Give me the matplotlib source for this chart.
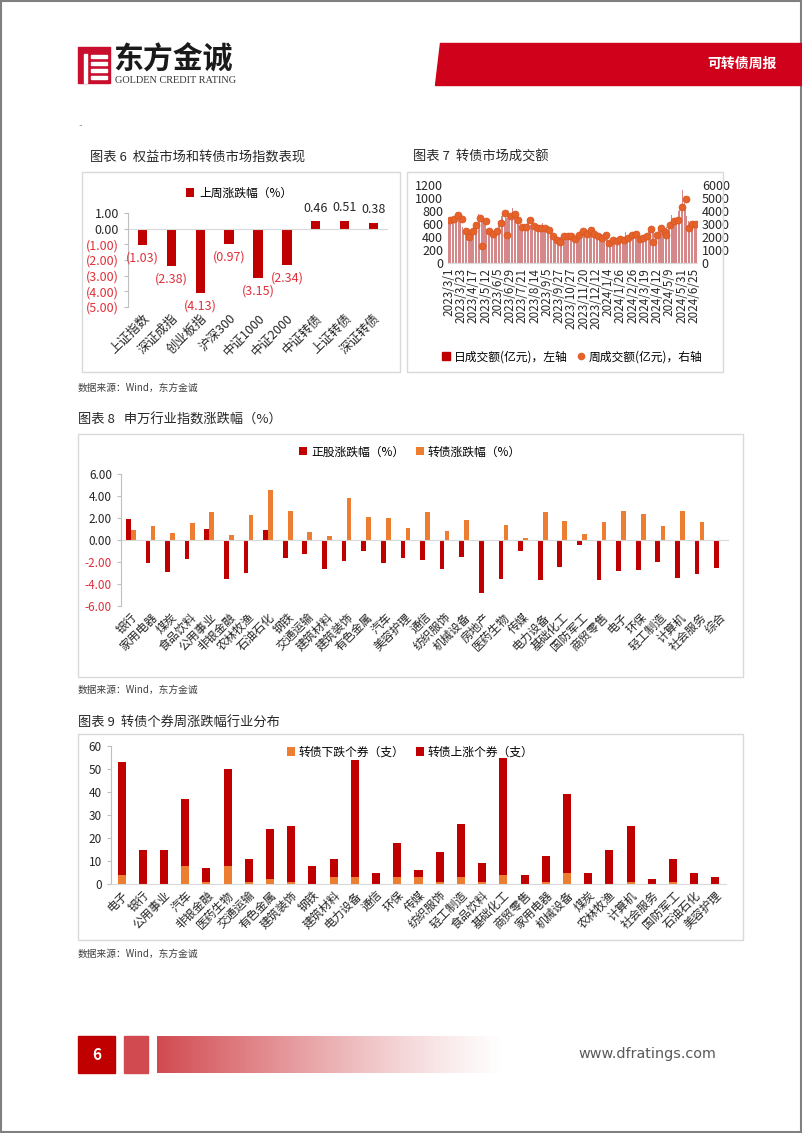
import numpy as np
import pandas as pd
import matplotlib.pyplot as plt
from matplotlib.patches import Rectangle, Polygon, Patch
from matplotlib.lines import Line2D
from matplotlib.ticker import FuncFormatter

plt.rcParams['font.family'] = ['Noto Sans CJK SC', 'DejaVu Sans']

RED = '#c00000'
ORANGE = '#ed7d31'
NEG = '#e0303a'
W, H = 802, 1133

# ---- chart 6 data
idx_names = ['上证指数', '深证成指', '创业板指', '沪深300', '中证1000', '中证2000', '中证转债', '上证转债', '深证转债']
idx_chg = [-1.03, -2.38, -4.13, -0.97, -3.15, -2.34, 0.46, 0.51, 0.38]

# ---- chart 7 data (trading days 2023/3/1 - 2024/6/28)
holidays = ['2023-04-05', '2023-05-01', '2023-05-02', '2023-05-03', '2023-06-22', '2023-06-23',
            '2023-09-29', '2023-10-02', '2023-10-03', '2023-10-04', '2023-10-05', '2023-10-06',
            '2024-01-01', '2024-02-12', '2024-02-13', '2024-02-14', '2024-02-15', '2024-02-16',
            '2024-04-04', '2024-04-05', '2024-05-01', '2024-05-02', '2024-05-03', '2024-06-10']
daily_amt = [
    700, 660, 690,  690, 720, 650, 700, 680,  760, 740, 720, 780, 700,  700, 660, 690, 720, 650,
    560, 500, 480, 470, 490,  500, 480, 490, 500,  480, 510, 500, 490, 520,  560, 620, 600, 580, 580,
    650, 700, 760, 680, 680,  640, 640,  680, 660, 640, 620, 640,  520, 500, 480, 500, 500,
    460, 450, 440, 460, 440,  480, 500, 520, 500, 500,  600, 640, 580, 620, 600,  720, 760, 820, 880, 650,
    720, 700, 720,  740, 720, 700, 740, 730,  760, 850, 740, 720, 710,  680, 660, 700, 640, 660,
    560, 540, 560, 550, 550,  520, 540, 560, 580, 560,  640, 680, 660, 820, 490,  580, 560, 560, 540, 570,
    560, 540, 550, 540, 540,  540, 520, 530, 560, 510,  620, 560, 520, 510, 520,  540, 500, 490, 500, 500,
    420, 410, 400, 410, 400,  360, 350, 340, 350, 340,  400, 390, 400, 390,  400, 420, 410, 400, 410,
    400, 410, 590, 420, 400,  400, 410, 600, 400, 400,  380, 370, 370, 380, 360,  420, 430, 410, 440, 420,
    480, 500, 490, 500, 480,  440, 450, 460, 430, 440,  510, 520, 500, 520, 500,  460, 440, 450, 450, 450,
    420, 410, 400, 430, 410,  390, 380, 400, 380, 390,  430, 440, 420, 440, 440,  380, 390, 540, 370,
    360, 350, 370, 360, 350,  340, 350, 330, 340, 350,  380, 360, 380, 370, 370,  350, 340, 360, 340, 350,
    420, 480, 400, 380, 300,  430, 440, 420, 440, 440,  480, 440, 430, 440, 430,  380, 370, 370, 380, 360,
    380, 390, 380, 380, 380,  400, 410, 420, 400, 410,  520, 500, 540, 520, 520,  540, 560, 540,
    420, 440, 430, 440, 440,  560, 520, 540, 520, 520,  480, 500, 470, 480, 470,  540, 560,
    560, 600, 580, 620, 550,  640, 740, 620, 640, 600,  660, 680, 640, 660, 650,  800, 820, 860, 900, 910,
    1130, 1050, 1000, 920, 830,  720, 680, 660, 650,  600, 620, 580, 600, 590,  600, 640, 580, 590, 580]
weekly_amt = [3290, 3420, 3700, 3420, 2500, 1970, 2500, 2940, 3470, 1280,
              3240, 2500, 2250, 2500, 3040, 3830, 2140, 3630, 3780, 3340,
              2760, 2760, 3290, 2810, 2730, 2660, 2730, 2530, 2040, 1740,
              1580, 2040, 2040, 2040, 1860, 2120, 2450, 2220, 2550, 2250,
              2070, 1940, 2170, 1560, 1790, 1710, 1860, 1740, 1910, 2170,
              2220, 1860, 1910, 2040, 2600, 1630, 2170, 2660, 2400, 2120,
              2910, 3240, 3290, 4290, 4930, 2710, 2990, 2990]

# ---- chart 8 data
sw_names = ['银行', '家用电器', '煤炭', '食品饮料', '公用事业', '非银金融', '农林牧渔', '石油石化', '钢铁', '交通运输',
            '建筑材料', '建筑装饰', '有色金属', '汽车', '美容护理', '通信', '纺织服饰', '机械设备', '房地产', '医药生物',
            '传媒', '电力设备', '基础化工', '国防军工', '商贸零售', '电子', '环保', '轻工制造', '计算机', '社会服务', '综合']
stock_chg = [1.92, -2.13, -2.95, -1.77, 0.97, -3.53, -3.02, 0.88, -1.63, -1.25,
             -2.62, -1.87, -1.03, -2.13, -1.66, -1.78, -2.66, -1.57, -4.78, -3.50,
             -1.00, -3.64, -2.44, -0.47, -3.60, -2.85, -2.75, -1.96, -3.47, -3.08, -2.50]
cb_chg = [0.92, 1.27, 0.67, 1.52, 2.55, 0.48, 2.27, 4.58, 2.64, 0.76,
          0.36, 3.85, 2.12, 1.97, 1.09, 2.55, 0.85, 1.79, np.nan, 1.32,
          0.20, 2.57, 1.73, 0.56, 1.67, 2.64, 2.33, 1.27, 2.64, 1.64, np.nan]

# ---- chart 9 data
cnt_names = ['电子', '银行', '公用事业', '汽车', '非银金融', '医药生物', '交通运输', '有色金属', '建筑装饰', '钢铁',
             '建筑材料', '电力设备', '通信', '环保', '传媒', '纺织服饰', '轻工制造', '食品饮料', '基础化工', '商贸零售',
             '家用电器', '机械设备', '煤炭', '农林牧渔', '计算机', '社会服务', '国防军工', '石油石化', '美容护理']
down_cnt = [4, 0, 0, 8, 1, 8, 1, 2, 1, 0, 3, 3, 0, 3, 3, 1, 3, 1, 4, 0, 1, 5, 0, 0, 1, 0, 1, 0, 0]
up_cnt = [49, 15, 15, 29, 6, 42, 10, 22, 24, 8, 8, 51, 5, 15, 3, 13, 23, 8, 51, 4, 11, 34, 5, 15, 24, 2, 10, 5, 3]


fig = plt.figure(figsize=(W / 100, H / 100), dpi=100)


def fbox(x0, y0, x1, y1):
    return [x0 / W, 1 - y1 / H, (x1 - x0) / W, (y1 - y0) / H]


def ftext(x, y, s, **kw):
    fig.text(x / W, 1 - y / H, s, **kw)


def frame(x0, y0, x1, y1, **kw):
    fig.patches.append(Rectangle((x0 / W, 1 - y1 / H), (x1 - x0) / W, (y1 - y0) / H,
                                 transform=fig.transFigure, **kw))


def style(ax):
    for s in ['top', 'right']:
        ax.spines[s].set_visible(False)
    ax.spines['left'].set_color('#bfbfbf')
    ax.spines['bottom'].set_color('#d9d9d9')
    ax.tick_params(axis='both', labelsize=8.5, colors='#262626', length=3)
    ax.tick_params(axis='x', length=0)
    ax.tick_params(axis='y', color='#bfbfbf')


def red_negatives(ax):
    for lab, v in zip(ax.get_yticklabels(), ax.get_yticks()):
        if v < 0:
            lab.set_color(NEG)


# ---- page decoration
frame(0.5, 0.5, W - 1, H - 1, fill=False, ec='#808080', lw=1.5)
frame(78, 47, 110, 83, color='#c8102e')
frame(84, 54, 87, 83, color='white')
for yy in [55, 62, 69, 76]:
    frame(91, yy, 107, yy + 2.5, color='white')
ftext(113, 60, '东方金诚', fontsize=21.5, fontweight='bold', va='center', color='#1a1a1a')
ftext(115, 80.5, 'GOLDEN CREDIT RATING', fontsize=7.4, family=['Liberation Serif', 'DejaVu Serif'],
      va='center', color='#333333')
fig.patches.append(Polygon([(440 / W, 1 - 43 / H), (1, 1 - 43 / H), (1, 1 - 85 / H), (435 / W, 1 - 85 / H)],
                           closed=True, transform=fig.transFigure, color='#d0021b'))
ftext(742, 64, '可转债周报', fontsize=10, fontweight='bold', color='white', ha='center', va='center')
ftext(78, 124, '..', fontsize=6, color='#404040', va='center')

# footer
frame(78, 1036, 115, 1073, color='#c00000')
ftext(96.5, 1054.5, '6', fontsize=11, fontweight='bold', color='white', ha='center', va='center')
frame(124, 1036, 148, 1073, color='#d04a50')
axg = fig.add_axes(fbox(157, 1036, 505, 1073))
axg.axis('off')
fade = np.linspace(1, 0, 300) ** 1.2
grad = np.zeros((1, 300, 4))
grad[..., 0], grad[..., 1], grad[..., 2], grad[..., 3] = 0.82, 0.29, 0.31, fade
axg.imshow(grad, aspect='auto')
ftext(647, 1054, 'www.dfratings.com', fontsize=10.4, color='#595959', ha='center', va='center',
      family=['Liberation Sans Narrow', 'DejaVu Sans'])

# ---- chart 6
ftext(90, 157, '图表 6  权益市场和转债市场指数表现', fontsize=9.5, va='center', color='#262626')
frame(82, 172, 400, 372, fill=False, ec='#d9d9d9', lw=1)
ax6 = fig.add_axes(fbox(128, 213, 388, 307))
x6 = np.arange(len(idx_names))
ax6.bar(x6, idx_chg, width=0.32, color=RED, label='上周涨跌幅（%）')
ax6.set_xlim(-0.5, len(x6) - 0.5)
ax6.set_ylim(-5, 1)
style(ax6)
ax6.spines['bottom'].set_visible(False)
ax6.axhline(0, color='#d9d9d9', lw=0.8)
ax6.set_yticks(np.arange(-5, 1.01, 1))
ax6.yaxis.set_major_formatter(FuncFormatter(lambda v, p: f'({abs(v):.2f})' if v < -1e-9 else f'{abs(v):.2f}'))
ax6.tick_params(axis='y', labelsize=9)
red_negatives(ax6)
ax6.set_xticks(x6)
ax6.set_xticklabels(idx_names, rotation=45, ha='right', va='top', rotation_mode='anchor', fontsize=9)
for xi, v in zip(x6, idx_chg):
    off = 13 if v >= 0 else -13
    txt = f'{v:.2f}' if v >= 0 else f'({abs(v):.2f})'
    ax6.annotate(txt, (xi, v), xytext=(0, off * 0.72), textcoords='offset points', ha='center',
                 va='center', fontsize=9, color='#262626' if v >= 0 else NEG, annotation_clip=False)
ax6.legend(loc='center', bbox_to_anchor=(239 / W, 1 - 193 / H), bbox_transform=fig.transFigure,
           frameon=False, fontsize=8.5, handlelength=0.7, handleheight=0.7, handletextpad=0.4)

# ---- chart 7
ftext(413, 157, '图表 7  转债市场成交额', fontsize=9.5, va='center', color='#262626')
frame(407, 172, 723, 372, fill=False, ec='#d9d9d9', lw=1)
dates = pd.bdate_range('2023-03-01', '2024-06-28')
dates = dates[~dates.isin(pd.to_datetime(holidays))]
x7 = np.arange(len(dates))
week_end = pd.Series(x7, index=dates).groupby(dates.to_period('W')).max().values
ax7 = fig.add_axes(fbox(448, 185, 697, 263))
ax7.bar(x7, daily_amt, width=0.75, color='#b3262b', alpha=0.55, lw=0)
ax7.set_xlim(-1, len(x7))
ax7.set_ylim(0, 1200)
ax7.set_yticks(np.arange(0, 1201, 200))
style(ax7)
ax7.spines['left'].set_visible(False)
ax7.tick_params(axis='y', length=0, labelsize=9)
tick_pos = x7[::16]
ax7.set_xticks(tick_pos)
ax7.set_xticklabels([f'{d.year}/{d.month}/{d.day}' for d in dates[tick_pos]], rotation=90,
                    fontsize=8.4)
ax7r = ax7.twinx()
ax7r.plot(week_end, weekly_amt, 'o', color='#e5622a', ms=5, mec='#d9531e', mew=0.5)
ax7r.set_ylim(0, 6000)
ax7r.set_yticks(np.arange(0, 6001, 1000))
for s in ['top', 'left', 'right', 'bottom']:
    ax7r.spines[s].set_visible(False)
ax7r.tick_params(axis='y', length=0, labelsize=9, colors='#262626')
h7 = [Patch(color=RED), Line2D([], [], marker='o', ls='', color='#e5622a', ms=4.5)]
ax7.legend(h7, ['日成交额(亿元)，左轴', '周成交额(亿元)，右轴'], loc='center', ncol=2,
           bbox_to_anchor=(572 / W, 1 - 357 / H), bbox_transform=fig.transFigure, frameon=False,
           fontsize=8.5, handlelength=0.7, handleheight=0.7, handletextpad=0.3, columnspacing=0.8)
ftext(78, 388, '数据来源：Wind，东方金诚', fontsize=7, va='center', color='#404040')

# ---- chart 8
ftext(78, 420, '图表 8   申万行业指数涨跌幅（%）', fontsize=9.5, va='center', color='#262626')
frame(78, 434, 743, 677, fill=False, ec='#d9d9d9', lw=1)
ax8 = fig.add_axes(fbox(121, 474, 729, 606))
x8 = np.arange(len(sw_names))
ax8.bar(x8 - 0.128, stock_chg, width=0.24, color=RED, label='正股涨跌幅（%）')
ax8.bar(x8 + 0.128, cb_chg, width=0.24, color=ORANGE, label='转债涨跌幅（%）')
ax8.set_xlim(-0.5, len(x8) - 0.5)
ax8.set_ylim(-6, 6)
style(ax8)
ax8.spines['bottom'].set_visible(False)
ax8.axhline(0, color='#d9d9d9', lw=0.8)
ax8.set_yticks(np.arange(-6, 6.01, 2))
ax8.yaxis.set_major_formatter(FuncFormatter(lambda v, p: f'{v:.2f}' if abs(v) > 1e-9 else '0.00'))
red_negatives(ax8)
ax8.set_xticks(x8)
ax8.set_xticklabels(sw_names, rotation=45, ha='right', va='top', rotation_mode='anchor', fontsize=8.5)
ax8.legend(loc='center', ncol=2, bbox_to_anchor=(410 / W, 1 - 452 / H), bbox_transform=fig.transFigure,
           frameon=False, fontsize=8.5, handlelength=0.7, handleheight=0.7, handletextpad=0.3,
           columnspacing=1.0)
ftext(78, 690, '数据来源：Wind，东方金诚', fontsize=7, va='center', color='#404040')

# ---- chart 9
ftext(78, 722, '图表 9  转债个券周涨跌幅行业分布', fontsize=9.5, va='center', color='#262626')
frame(78, 734, 743, 940, fill=False, ec='#d9d9d9', lw=1)
ax9 = fig.add_axes(fbox(111, 746, 726, 884))
x9 = np.arange(len(cnt_names))
ax9.bar(x9, down_cnt, width=0.38, color=ORANGE, label='转债下跌个券（支）')
ax9.bar(x9, up_cnt, width=0.38, bottom=down_cnt, color=RED, label='转债上涨个券（支）')
ax9.set_xlim(-0.5, len(x9) - 0.5)
ax9.set_ylim(0, 60)
style(ax9)
ax9.set_yticks(np.arange(0, 61, 10))
ax9.set_xticks(x9)
ax9.set_xticklabels(cnt_names, rotation=45, ha='right', va='top', rotation_mode='anchor', fontsize=8.5)
ax9.legend(loc='center', ncol=2, bbox_to_anchor=(410 / W, 1 - 752 / H), bbox_transform=fig.transFigure,
           frameon=False, fontsize=8.5, handlelength=0.7, handleheight=0.7, handletextpad=0.3,
           columnspacing=1.0)
ftext(78, 954, '数据来源：Wind，东方金诚', fontsize=7, va='center', color='#404040')

fig.savefig('out.png', dpi=100)
